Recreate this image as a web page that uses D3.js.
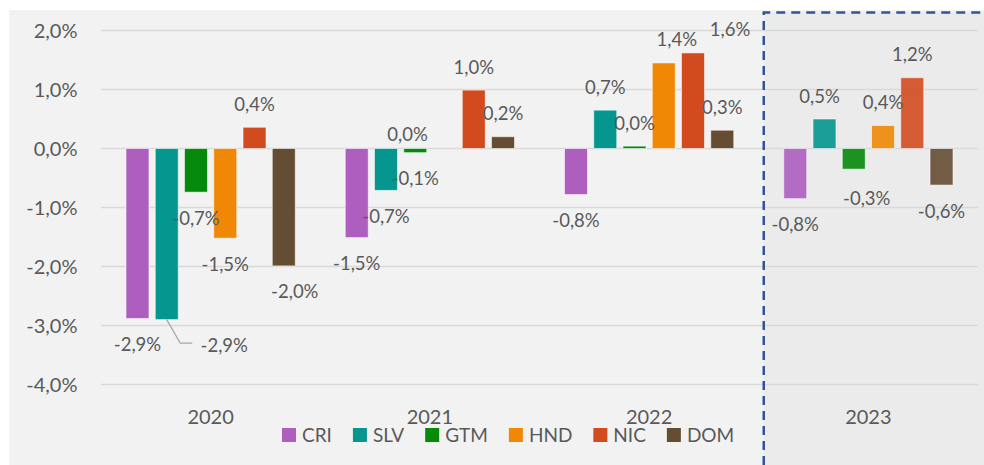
<!DOCTYPE html>
<html>
<head>
<meta charset="utf-8">
<script src="https://cdn.jsdelivr.net/npm/d3@7"></script>
<style>
  body { margin: 0; background: #ffffff; }
  text { font-family: Lato, "Liberation Sans", sans-serif; fill: #595959; }
</style>
</head>
<body>
<div id="chart"></div>
<script>
// variacion anual por pais, 2020-2023 (2023 = proyeccion)
var years = ["2020", "2021", "2022", "2023"];
var countries = ["CRI", "SLV", "GTM", "HND", "NIC", "DOM"];
var colors = ["#ad5ebf", "#05968f", "#068a0b", "#f08806", "#d14b1f", "#654d33"];

var CRI = [-2.88, -1.51, -0.78, -0.85];
var SLV = [-2.90, -0.71, 0.65, 0.50];
var GTM = [-0.74, -0.07, 0.04, -0.35];
var HND = [-1.52, 0.00, 1.45, 0.39];
var NIC = [0.36, 0.99, 1.62, 1.20];
var DOM = [-1.99, 0.20, 0.31, -0.62];

var yTicks = [-4, -3, -2, -1, 0, 1, 2];

var seriesValues = { CRI: CRI, SLV: SLV, GTM: GTM, HND: HND, NIC: NIC, DOM: DOM };

// manual label moves, like in the original sheet
var labelNudge = {
  "SLV-2020": [57.5, 0],
  "DOM-2020": [11, 0],
  "HND-2021": [-37, 8.5],
  "HND-2022": [13, 0],
  "NIC-2022": [37, 0],
  "SLV-2023": [-5, 0],
  "GTM-2023": [13, 3]
};

var svgWidth = 984;
var svgHeight = 465;

var plot = { left: 101, right: 978, top: 30.5, bottom: 384.5 };

var svg = d3.select("#chart")
  .append("svg")
  .attr("width", svgWidth)
  .attr("height", svgHeight);

// panel background
svg.append("rect")
  .attr("x", 9).attr("y", 10)
  .attr("width", svgWidth - 9).attr("height", svgHeight - 10)
  .attr("fill", "#f2f2f2");

var x0 = d3.scaleBand()
  .domain(years)
  .range([plot.left, plot.right])
  .padding(0);

var x1 = d3.scaleBand()
  .domain(countries)
  .range([25, x0.bandwidth() - 25])
  .paddingInner(0.215);

var y = d3.scaleLinear()
  .domain([-4, 2])
  .range([plot.bottom, plot.top]);

var color = d3.scaleOrdinal().domain(countries).range(colors);

var fmt = function(v) {
  return d3.format(".1f")(v).replace(".", ",").replace("−", "-") + "%";
};

// 2023 shaded box
var boxX = x0("2023") + 5;
svg.append("rect")
  .attr("x", boxX).attr("y", 12.5)
  .attr("width", svgWidth - boxX).attr("height", svgHeight - 12.5)
  .attr("fill", "#ebebeb");

// gridlines
svg.append("g")
  .selectAll("line")
  .data(yTicks)
  .enter().append("line")
  .attr("x1", plot.left).attr("x2", plot.right)
  .attr("y1", function(d) { return y(d); })
  .attr("y2", function(d) { return y(d); })
  .attr("stroke", "#d9d9d9")
  .attr("stroke-width", 1.5);

// y axis labels
svg.append("g")
  .selectAll("text")
  .data(yTicks)
  .enter().append("text")
  .attr("x", 77.5)
  .attr("y", function(d) { return y(d) + 7; })
  .attr("text-anchor", "end")
  .style("font-size", "20px")
  .text(function(d) { return fmt(d); });

// flat table for the bars
var rows = [];
years.forEach(function(yr, i) {
  countries.forEach(function(c) {
    rows.push({ year: yr, country: c, value: seriesValues[c][i], idx: i });
  });
});

var bars = svg.append("g");

bars.selectAll("rect")
  .data(rows.filter(function(d) { return d.value !== 0; }))
  .enter().append("rect")
  .attr("x", function(d) { return x0(d.year) + x1(d.country); })
  .attr("y", function(d) { return y(Math.max(0, d.value)); })
  .attr("width", x1.bandwidth())
  .attr("height", function(d) { return Math.abs(y(d.value) - y(0)); })
  .attr("fill", function(d) { return color(d.country); })
  .attr("fill-opacity", function(d) { return d.year === "2023" ? 0.9 : 1; })
  .attr("stroke", "#ffffff")
  .attr("stroke-opacity", 0.55)
  .attr("stroke-width", 1);

// data labels
function labelPos(d) {
  var cx = x0(d.year) + x1(d.country) + x1.bandwidth() / 2;
  var cy = d.value >= 0 ? y(d.value) - 23 : y(d.value) + 26;
  var n = labelNudge[d.country + "-" + d.year] || [0, 0];
  return [cx + n[0], cy + n[1]];
}

var labels = svg.append("g");

labels.selectAll("text")
  .data(rows)
  .enter().append("text")
  .attr("x", function(d) { return labelPos(d)[0]; })
  .attr("y", function(d) { return labelPos(d)[1] + 6.5; })
  .attr("text-anchor", "middle")
  .style("font-size", "18.5px")
  .text(function(d) { return fmt(d.value); });

// leader line for SLV 2020
var slv20 = rows.filter(function(d) { return d.country === "SLV" && d.year === "2020"; })[0];
var bx = x0(slv20.year) + x1(slv20.country) + x1.bandwidth() / 2;
var by = y(slv20.value);
var lp = labelPos(slv20);
svg.append("path")
  .attr("d", d3.line()([[bx, by], [bx + 13.5, lp[1] - 2.5], [lp[0] - 32, lp[1] - 2.5]]))
  .attr("fill", "none")
  .attr("stroke", "#a6a6a6")
  .attr("stroke-width", 1.2);

// category labels
svg.append("g")
  .selectAll("text")
  .data(years)
  .enter().append("text")
  .attr("x", function(d) { return x0(d) + x0.bandwidth() / 2; })
  .attr("y", 424)
  .attr("text-anchor", "middle")
  .style("font-size", "20px")
  .text(function(d) { return d; });

// dashed frame around 2023
svg.append("path")
  .attr("d", "M" + boxX + "," + svgHeight + "V12.5H" + svgWidth)
  .attr("fill", "none")
  .attr("stroke", "#2f5597")
  .attr("stroke-width", 2.5)
  .attr("stroke-dasharray", "9,6");

// legend
var legend = svg.append("g");
var lx = 282;
countries.forEach(function(c) {
  legend.append("rect")
    .attr("x", lx).attr("y", 428)
    .attr("width", 14).attr("height", 14)
    .attr("fill", color(c));
  var t = legend.append("text")
    .attr("x", lx + 20).attr("y", 442)
    .style("font-size", "19px")
    .text(c);
  lx += 20 + t.node().getComputedTextLength() + 21;
});
</script>
</body>
</html>
